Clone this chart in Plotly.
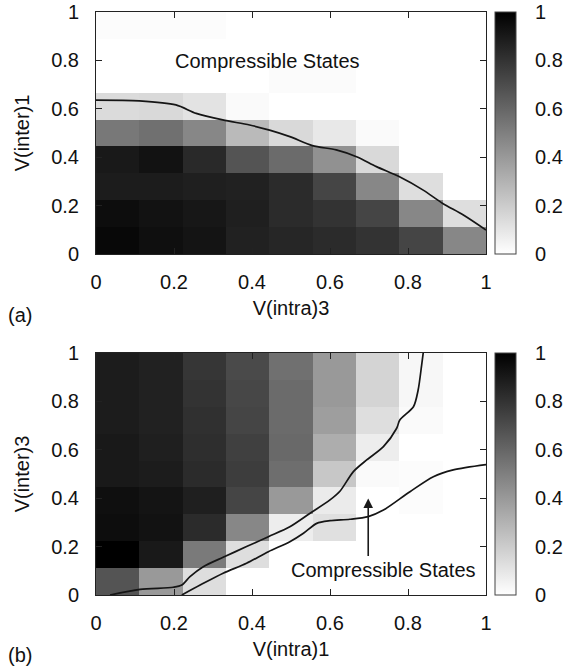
import plotly.graph_objects as go

# ---------------- data ----------------
x_centers = [0.0556, 0.1667, 0.2778, 0.3889, 0.5, 0.6111, 0.7222, 0.8333, 0.9444]
y_centers = [0.0556, 0.1667, 0.2778, 0.3889, 0.5, 0.6111, 0.7222, 0.8333, 0.9444]

# panel (a): rows from bottom (V(inter)1 ~ 0) to top
z_a = [
    [0.97, 0.94, 0.92, 0.87, 0.85, 0.83, 0.80, 0.73, 0.47],
    [0.95, 0.93, 0.91, 0.88, 0.83, 0.80, 0.73, 0.47, 0.13],
    [0.89, 0.89, 0.88, 0.87, 0.83, 0.73, 0.47, 0.13, 0.00],
    [0.90, 0.93, 0.84, 0.67, 0.58, 0.43, 0.15, 0.00, 0.00],
    [0.53, 0.56, 0.47, 0.27, 0.15, 0.09, 0.02, 0.00, 0.00],
    [0.14, 0.15, 0.11, 0.02, 0.00, 0.00, 0.00, 0.00, 0.00],
    [0.00, 0.00, 0.00, 0.00, 0.015, 0.015, 0.00, 0.00, 0.00],
    [0.00, 0.00, 0.00, 0.00, 0.00, 0.00, 0.00, 0.00, 0.00],
    [0.01, 0.01, 0.01, 0.00, 0.00, 0.00, 0.00, 0.00, 0.00],
]

# panel (b): rows from bottom (V(inter)3 ~ 0) to top
z_b = [
    [0.67, 0.40, 0.13, 0.00, 0.00, 0.00, 0.00, 0.00, 0.00],
    [1.00, 0.90, 0.52, 0.13, 0.00, 0.00, 0.00, 0.00, 0.00],
    [0.95, 0.93, 0.83, 0.47, 0.07, 0.12, 0.00, 0.00, 0.00],
    [0.94, 0.92, 0.88, 0.73, 0.40, 0.08, 0.00, 0.01, 0.00],
    [0.90, 0.89, 0.83, 0.76, 0.57, 0.22, 0.02, 0.01, 0.00],
    [0.90, 0.88, 0.82, 0.75, 0.59, 0.32, 0.07, 0.00, 0.00],
    [0.89, 0.87, 0.81, 0.73, 0.58, 0.38, 0.13, 0.02, 0.00],
    [0.89, 0.87, 0.80, 0.72, 0.58, 0.40, 0.17, 0.03, 0.00],
    [0.89, 0.87, 0.79, 0.71, 0.56, 0.40, 0.17, 0.03, 0.00],
]

# boundary curve in panel (a)
line_a_x = [0.0, 0.111, 0.205, 0.257, 0.325, 0.394, 0.445, 0.497, 0.555, 0.616,
            0.668, 0.719, 0.777, 0.839, 0.889, 0.942, 1.0]
line_a_y = [0.636, 0.633, 0.616, 0.581, 0.554, 0.533, 0.512, 0.485, 0.448, 0.43,
            0.402, 0.361, 0.32, 0.264, 0.209, 0.161, 0.099]

# boundary curves in panel (b)
line_b1_x = [0.036, 0.113, 0.198, 0.22, 0.241, 0.275, 0.326, 0.386, 0.442, 0.497, 0.549,
             0.6, 0.626, 0.66, 0.694, 0.737, 0.771, 0.779, 0.814, 0.826, 0.835, 0.839]
line_b1_y = [0.0, 0.023, 0.032, 0.041, 0.076, 0.117, 0.156, 0.2, 0.241, 0.282, 0.338,
             0.393, 0.43, 0.51, 0.558, 0.613, 0.689, 0.723, 0.778, 0.847, 0.95, 1.0]
line_b2_x = [0.22, 0.267, 0.326, 0.386, 0.442, 0.497, 0.532, 0.566, 0.6, 0.651,
             0.698, 0.737, 0.805, 0.865, 0.916, 1.0]
line_b2_y = [0.0, 0.041, 0.09, 0.131, 0.179, 0.22, 0.255, 0.296, 0.307, 0.313,
             0.324, 0.351, 0.427, 0.489, 0.517, 0.539]

tick_vals = [0, 0.2, 0.4, 0.6, 0.8, 1]
tick_text = ["0", "0.2", "0.4", "0.6", "0.8", "1"]

# ---------------- figure ----------------
W, H = 579, 668
FONT = "Liberation Sans, Arial, Helvetica, sans-serif"
TXT = "#111111"
gray_scale = [[0, "#ffffff"], [1, "#000000"]]

plot_left, plot_right = 96, 486
a_top, a_bot = 12, 254
b_top, b_bot = 353, 595
cb_left, cb_thick = 495, 21


def colorbar(top, bot):
    return dict(
        x=cb_left / W, xanchor="left", xpad=0,
        y=1 - (top + bot) / 2 / H, yanchor="middle", ypad=0,
        len=bot - top, lenmode="pixels", thickness=cb_thick,
        tickvals=tick_vals, ticktext=tick_text,
        ticks="outside", ticklen=15, tickcolor="rgba(0,0,0,0)",
        tickfont=dict(family=FONT, size=20, color=TXT),
        outlinewidth=1, outlinecolor="#444444",
    )


fig = go.Figure()
fig.add_trace(go.Heatmap(x=x_centers, y=y_centers, z=z_a, zmin=0, zmax=1,
                         colorscale=gray_scale, colorbar=colorbar(a_top, a_bot),
                         xaxis="x", yaxis="y", hoverinfo="skip"))
fig.add_trace(go.Heatmap(x=x_centers, y=y_centers, z=z_b, zmin=0, zmax=1,
                         colorscale=gray_scale, colorbar=colorbar(b_top, b_bot),
                         xaxis="x2", yaxis="y2", hoverinfo="skip"))

line_style = dict(color="#151515", width=1.7, shape="spline", smoothing=0.8)
fig.add_trace(go.Scatter(x=line_a_x, y=line_a_y, mode="lines", line=line_style,
                         xaxis="x", yaxis="y", showlegend=False))
fig.add_trace(go.Scatter(x=line_b1_x, y=line_b1_y, mode="lines", line=line_style,
                         xaxis="x2", yaxis="y2", showlegend=False))
fig.add_trace(go.Scatter(x=line_b2_x, y=line_b2_y, mode="lines", line=line_style,
                         xaxis="x2", yaxis="y2", showlegend=False))


def xax(title, anchor):
    return dict(domain=[plot_left / W, plot_right / W], range=[0, 1], anchor=anchor,
                tickvals=tick_vals, ticktext=tick_text, ticks="inside", ticklen=6,
                tickcolor="#222", tickwidth=1,
                showline=True, linecolor="#222", linewidth=1, mirror="ticks",
                showgrid=False, zeroline=False, automargin=False,
                ticklabelstandoff=10,
                tickfont=dict(family=FONT, size=20, color=TXT),
                title=dict(text=title, standoff=8, font=dict(family=FONT, size=20, color=TXT)))


def yax(title, anchor, top, bot):
    return dict(domain=[1 - bot / H, 1 - top / H], range=[0, 1], anchor=anchor,
                tickvals=tick_vals, ticktext=tick_text, ticks="inside", ticklen=6,
                tickcolor="#222", tickwidth=1,
                showline=True, linecolor="#222", linewidth=1, mirror="ticks",
                showgrid=False, zeroline=False, automargin=False,
                ticklabelstandoff=12,
                tickfont=dict(family=FONT, size=20, color=TXT),
                title=dict(text=title, standoff=16, font=dict(family=FONT, size=20, color=TXT)))


# short inner tick dashes on both sides of each colour bar
shapes = []
for top, bot in ((a_top, a_bot), (b_top, b_bot)):
    for v in tick_vals[1:-1]:
        yp = 1 - (bot - v * (bot - top)) / H
        for x0, x1 in ((cb_left, cb_left + 5), (cb_left + cb_thick - 5, cb_left + cb_thick)):
            shapes.append(dict(type="line", xref="paper", yref="paper",
                               x0=x0 / W, x1=x1 / W, y0=yp, y1=yp,
                               line=dict(color="#333333", width=1)))

fig.update_layout(
    width=W, height=H,
    margin=dict(l=0, r=0, t=0, b=0),
    paper_bgcolor="white", plot_bgcolor="white",
    showlegend=False,
    font=dict(family=FONT, size=20, color=TXT),
    xaxis=xax("V(intra)3", "y"),
    yaxis=yax("V(inter)1", "x", a_top, a_bot),
    xaxis2=xax("V(intra)1", "y2"),
    yaxis2=yax("V(inter)3", "x2", b_top, b_bot),
    shapes=shapes,
    annotations=[
        dict(text="Compressible States", x=0.44, y=0.797, xref="x", yref="y",
             showarrow=False, font=dict(family=FONT, size=20, color=TXT)),
        dict(text="Compressible States", x=0.738, y=0.103, xref="x2", yref="y2",
             showarrow=False, font=dict(family=FONT, size=20, color=TXT)),
        dict(text="", x=0.698, y=0.399, xref="x2", yref="y2",
             ax=0.698, ay=0.155, axref="x2", ayref="y2",
             showarrow=True, arrowhead=2, arrowsize=1.2, arrowwidth=1.6,
             arrowcolor="#1a1a1a"),
        dict(text="(a)", x=20 / W, y=1 - 315 / H, xref="paper", yref="paper",
             xanchor="center", yanchor="middle", showarrow=False,
             font=dict(family=FONT, size=20, color=TXT)),
        dict(text="(b)", x=20 / W, y=1 - 655 / H, xref="paper", yref="paper",
             xanchor="center", yanchor="middle", showarrow=False,
             font=dict(family=FONT, size=20, color=TXT)),
    ],
)

fig.write_html("out.html",
               config={"displayModeBar": False, "staticPlot": True},
               post_script="document.body.style.margin='0px';"
                           "document.documentElement.style.overflow='hidden';")
